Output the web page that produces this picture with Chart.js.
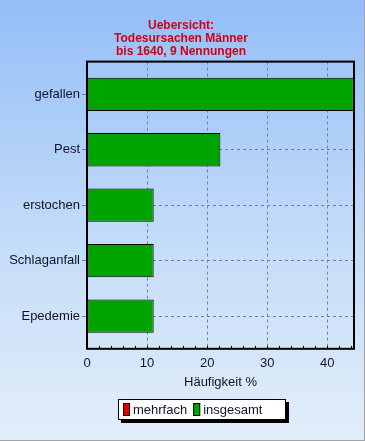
<!DOCTYPE html>
<html>
<head>
<meta charset="utf-8">
<script src="https://cdn.jsdelivr.net/npm/chart.js@4"></script>
<style>
    body { margin: 0; }
    #wrap {
        width: 364px;
        height: 440px;
        border-right: 1px solid #a0a4a8;
        border-bottom: 1px solid #a0a4a8;
        background: linear-gradient(to bottom, #94bef8 0%, #c4dcf8 55%, #e2edf9 100%);
    }
</style>
</head>
<body>
<div id="wrap"><canvas id="chart" width="364" height="440"></canvas></div>
<script>
// Chart data
const categories = ['gefallen', 'Pest', 'erstochen', 'Schlaganfall', 'Epedemie'];
const insgesamt = [44.4, 22.2, 11.1, 11.1, 11.1];
const mehrfach = [0, 0, 0, 0, 0];
const xTickLabels = [0, 10, 20, 30, 40];
const xMax = 44.44;
const titleLines = ['Uebersicht:', 'Todesursachen Männer', 'bis 1640, 9 Nennungen'];
const axisTitle = 'Häufigkeit %';

const FONT = 'Liberation Sans, Arial, sans-serif';
const TEXT = '#10142a';

// bar rows sit on a numeric axis so the frame can leave some room above and below
const toPoints = (values) => values.map((v, i) => ({ x: v, y: i }));

// Frame around the plot area plus small minor ticks on the x axis
const framePlugin = {
    id: 'frame',
    afterDatasetsDraw(chart) {
        const { ctx, chartArea: a, scales } = chart;
        ctx.save();
        ctx.strokeStyle = '#000';
        ctx.lineWidth = 1;
        ctx.beginPath();
        for (let v = 2; v < xMax; v += 2) {
            const x = Math.round(scales.x.getPixelForValue(v)) + 0.5;
            ctx.moveTo(x, a.bottom);
            ctx.lineTo(x, a.bottom - 3);
        }
        ctx.stroke();
        ctx.lineWidth = 2;
        ctx.strokeRect(a.left, a.top, a.right - a.left, a.bottom - a.top);
        ctx.restore();
    }
};

// Boxed legend with a drop shadow, like the original
const boxLegendPlugin = {
    id: 'boxLegend',
    afterDraw(chart) {
        const { ctx } = chart;
        const sets = chart.data.datasets;
        const left = 118, top = 399, w = 168, h = 21;
        const sq = 7, gap = 3, itemGap = 6;
        ctx.save();
        ctx.font = '13px ' + FONT;
        ctx.fillStyle = '#000';
        ctx.fillRect(left + 3, top + 3, w, h);
        ctx.fillStyle = '#fff';
        ctx.fillRect(left, top, w, h);
        ctx.strokeStyle = '#000';
        ctx.lineWidth = 1;
        ctx.strokeRect(left + 0.5, top + 0.5, w - 1, h - 1);
        let x = left + 5;
        sets.forEach((d) => {
            ctx.fillStyle = d.backgroundColor;
            ctx.fillRect(x, top + 4, sq, 13);
            ctx.strokeRect(x + 0.5, top + 4.5, sq - 1, 12);
            x += sq + gap;
            ctx.fillStyle = TEXT;
            ctx.textBaseline = 'middle';
            ctx.fillText(d.label, x, top + h / 2 + 1);
            x += ctx.measureText(d.label).width + itemGap;
        });
        ctx.restore();
    }
};

new Chart(document.getElementById('chart'), {
    type: 'bar',
    data: {
        datasets: [
            {
                label: 'mehrfach',
                data: toPoints(mehrfach),
                backgroundColor: '#e80000',
                borderWidth: 0,
                grouped: false
            },
            {
                label: 'insgesamt',
                data: toPoints(insgesamt),
                backgroundColor: '#00a400',
                borderColor: '#000',
                borderWidth: 1,
                borderSkipped: false,
                grouped: false
            }
        ]
    },
    options: {
        indexAxis: 'y',
        responsive: false,
        animation: false,
        barPercentage: 0.6,
        categoryPercentage: 1,
        layout: {
            padding: { left: 8, right: 10, top: 0, bottom: 50 }
        },
        plugins: {
            legend: { display: false },
            tooltip: { enabled: false },
            title: {
                display: true,
                text: titleLines,
                color: '#d00018',
                font: { family: FONT, size: 12, weight: 'bold', lineHeight: 1.1 },
                padding: { top: 19, bottom: 3 }
            }
        },
        scales: {
            x: {
                min: 0,
                max: xMax,
                afterBuildTicks(scale) {
                    scale.ticks = xTickLabels.map(v => ({ value: v }));
                },
                ticks: {
                    color: TEXT,
                    padding: 7,
                    font: { family: FONT, size: 13 }
                },
                grid: {
                    color: '#6a84a8',
                    drawTicks: false
                },
                border: { display: false, dash: [3, 3] },
                title: {
                    display: true,
                    text: axisTitle,
                    color: TEXT,
                    font: { family: FONT, size: 13 },
                    padding: { top: -4, bottom: 0 }
                }
            },
            y: {
                type: 'linear',
                reverse: true,
                offset: false,
                min: -0.59,
                max: categories.length - 1 + 0.59,
                afterBuildTicks(scale) {
                    scale.ticks = categories.map((c, i) => ({ value: i }));
                },
                afterFit(scale) {
                    scale.width = 79;
                },
                ticks: {
                    color: TEXT,
                    padding: 2,
                    font: { family: FONT, size: 13 },
                    callback: (v) => categories[v]
                },
                grid: {
                    offset: false,
                    color: '#6a84a8',
                    tickColor: '#6a84a8',
                    tickLength: 5,
                    tickBorderDash: []
                },
                border: { display: false, dash: [3, 3] }
            }
        }
    },
    plugins: [framePlugin, boxLegendPlugin]
});
</script>
</body>
</html>
